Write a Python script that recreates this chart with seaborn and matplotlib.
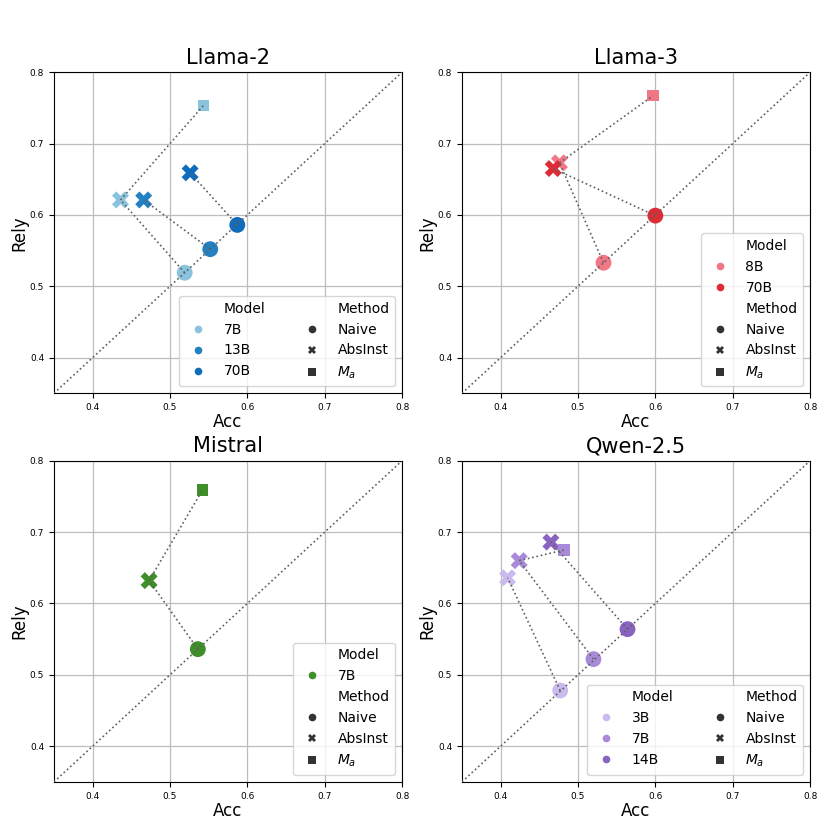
import numpy as np
import pandas as pd
import matplotlib
matplotlib.use("Agg")
import matplotlib.pyplot as plt
import seaborn as sns

# ---- data ----
families = ["Llama-2", "Llama-3", "Mistral", "Qwen-2.5"]

llama2_models = ["7B", "13B", "70B"]
llama2_naive_acc = [0.519, 0.552, 0.587]
llama2_naive_rely = [0.519, 0.552, 0.586]
llama2_abs_acc = [0.436, 0.466, 0.526]
llama2_abs_rely = [0.621, 0.621, 0.659]
llama2_ma_model = "7B"
llama2_ma = (0.543, 0.753)
llama2_colors = ["#8ac3dd", "#2381c2", "#0f6cbd"]

llama3_models = ["8B", "70B"]
llama3_naive_acc = [0.533, 0.600]
llama3_naive_rely = [0.533, 0.599]
llama3_abs_acc = [0.476, 0.468]
llama3_abs_rely = [0.673, 0.665]
llama3_ma_model = "8B"
llama3_ma = (0.597, 0.767)
llama3_colors = ["#f27786", "#dc2c35"]

mistral_models = ["7B"]
mistral_naive_acc = [0.536]
mistral_naive_rely = [0.536]
mistral_abs_acc = [0.473]
mistral_abs_rely = [0.632]
mistral_ma_model = "7B"
mistral_ma = (0.542, 0.759)
mistral_colors = ["#3e8e2a"]

qwen_models = ["3B", "7B", "14B"]
qwen_naive_acc = [0.477, 0.520, 0.564]
qwen_naive_rely = [0.478, 0.522, 0.564]
qwen_abs_acc = [0.409, 0.424, 0.465]
qwen_abs_rely = [0.636, 0.660, 0.686]
qwen_ma_model = "7B"
qwen_ma = (0.482, 0.675)
qwen_colors = ["#cbbaee", "#a98ad9", "#8a63c0"]

methods = ["Naive", "AbsInst", "$M_a$"]
method_markers = {"Naive": "o", "AbsInst": "X", "$M_a$": "s"}
method_sizes = {"Naive": 130, "AbsInst": 150, "$M_a$": 65}

panels = [
    (families[0], llama2_models, llama2_naive_acc, llama2_naive_rely, llama2_abs_acc, llama2_abs_rely, llama2_ma_model, llama2_ma, llama2_colors),
    (families[1], llama3_models, llama3_naive_acc, llama3_naive_rely, llama3_abs_acc, llama3_abs_rely, llama3_ma_model, llama3_ma, llama3_colors),
    (families[2], mistral_models, mistral_naive_acc, mistral_naive_rely, mistral_abs_acc, mistral_abs_rely, mistral_ma_model, mistral_ma, mistral_colors),
    (families[3], qwen_models, qwen_naive_acc, qwen_naive_rely, qwen_abs_acc, qwen_abs_rely, qwen_ma_model, qwen_ma, qwen_colors),
]


def build_df(models, na, nr, aa, ar, ma_model, ma):
    rows = []
    for m, x, y in zip(models, na, nr):
        rows.append(dict(Model=m, Method="Naive", Acc=x, Rely=y))
    for m, x, y in zip(models, aa, ar):
        rows.append(dict(Model=m, Method="AbsInst", Acc=x, Rely=y))
    rows.append(dict(Model=ma_model, Method="$M_a$", Acc=ma[0], Rely=ma[1]))
    return pd.DataFrame(rows)


fig, axes = plt.subplots(2, 2, figsize=(8.3, 8.3), dpi=100)
fig.subplots_adjust(left=0.065, right=0.976, top=0.913, bottom=0.058,
                    hspace=0.21, wspace=0.172)

line_kw = dict(linestyle=":", color="#5f5f5f", linewidth=1.2, zorder=4)

for ax, (name, models, na, nr, aa, ar, ma_model, ma, colors) in zip(axes.flat, panels):
    df = build_df(models, na, nr, aa, ar, ma_model, ma)
    palette = dict(zip(models, colors))
    ax.grid(True, color="#bdbdbd", linewidth=0.9, zorder=0)
    ax.set_axisbelow(True)

    sns.scatterplot(data=df, x="Acc", y="Rely", hue="Model", style="Method",
                    size="Method", sizes=method_sizes, size_order=methods,
                    hue_order=models, style_order=methods,
                    markers=method_markers, palette=palette,
                    linewidth=0, ax=ax, zorder=3, legend="full")

    # connecting dotted lines
    for m in models:
        sub = df[df["Model"] == m].set_index("Method")
        ax.plot([sub.loc["Naive", "Acc"], sub.loc["AbsInst", "Acc"]],
                [sub.loc["Naive", "Rely"], sub.loc["AbsInst", "Rely"]], **line_kw)
        if m == ma_model:
            ax.plot([sub.loc["AbsInst", "Acc"], sub.loc["$M_a$", "Acc"]],
                    [sub.loc["AbsInst", "Rely"], sub.loc["$M_a$", "Rely"]], **line_kw)
    ax.plot([0.35, 0.8], [0.35, 0.8], **line_kw)

    ax.set_xlim(0.35, 0.8)
    ax.set_ylim(0.35, 0.8)
    ax.set_xticks([0.4, 0.5, 0.6, 0.7, 0.8])
    ax.set_yticks([0.4, 0.5, 0.6, 0.7, 0.8])
    ax.tick_params(labelsize=6.5)
    ax.set_xlabel("Acc", fontsize=12, labelpad=1)
    ax.set_ylabel("Rely", fontsize=12, labelpad=1)
    ax.set_title(name, fontsize=15)

    leg = ax.get_legend()
    handles = list(leg.legend_handles)
    labels = [t.get_text() for t in leg.texts]
    leg.remove()
    for h in handles:
        try:
            h.set_markersize(5.5)
        except Exception:
            pass
    ncol = 2 if len(models) == 3 else 1
    ax.legend(handles, labels, loc="lower right", ncol=ncol, fontsize=10,
              columnspacing=2.4)

fig.savefig("out.png", dpi=100)
